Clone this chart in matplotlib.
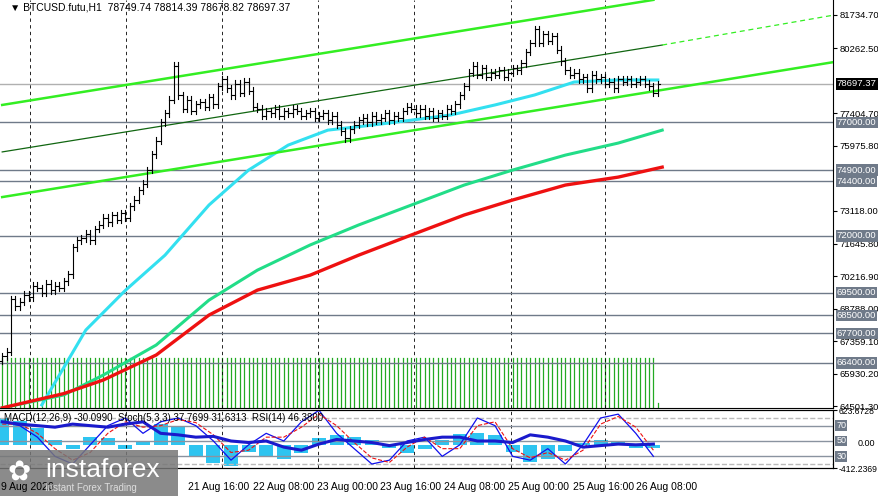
import matplotlib
matplotlib.use("Agg")
import matplotlib.pyplot as plt
import numpy as np
from matplotlib.patches import Rectangle

plt.rcParams['font.family'] = ['Liberation Sans', 'DejaVu Sans']

closes = [66700, 66900, 69200, 68900, 69100, 69400, 69300,
          69800, 69700, 69500, 69900, 69600, 69800, 69700, 70000, 70300,
          71500, 71800, 71900, 72100, 71800, 72300, 72500,
          72800, 72600, 72900, 72700, 73000, 72800, 73300,
          73600, 74000, 74300, 74900, 75600,
          76200, 77000, 77400, 78000, 79500,
          78200, 77600, 78000, 77500, 77800, 77900, 77700, 78100, 77800, 78600, 78900, 78500, 78200, 78700, 78300, 78800, 78400, 77700,
          77600, 77300, 77500, 77400, 77600, 77300, 77500, 77400, 77600, 77500, 77300, 77400, 77500, 77200, 77300, 77400, 77100, 77300, 76900, 76600, 76300,
          76700, 76900, 77100, 77200, 77000, 77300, 77100, 77200, 77400, 77100, 77300, 77200,
          77500, 77700, 77600, 77400, 77600, 77300, 77500, 77200, 77400, 77300, 77600, 77500, 77800, 78200,
          78600, 79200, 79500, 79100, 79400, 79000, 79200, 79100, 79300, 79000,
          79200, 79400, 79300, 79600, 80100, 80500,
          81100, 80500, 80900, 80600, 80800, 80200, 79700, 79300,
          79100, 79200, 78900, 79000, 78500, 79100, 78900, 79000,
          78700, 78800, 78500, 78900, 78800, 78900, 78700, 78800, 78900, 78700, 78600, 78300,
          78697.37]
opens = [66500] + closes[:-1]
wick = 150

ma_bars = [9, 19, 28, 37, 47, 56, 65, 74, 84, 93, 102, 112, 121, 130, 140, 149]
ma_cyan = [64550, 67850, 69600, 71150, 73360, 74900, 76000, 76660, 76880, 77100, 77330, 77770, 78210, 78780, 78870, 78870]
ma_green_bars = [0, 14, 23, 35, 47, 58, 70, 81, 93, 105, 116, 128, 140, 150]
ma_green = [64420, 64990, 65870, 67190, 69170, 70490, 71600, 72480, 73360, 74240, 74900, 75560, 76090, 76660]
ma_red = [64420, 65050, 65650, 66750, 68510, 69610, 70270, 71150, 72040, 72920, 73580, 74240, 74590, 75030]

levels = [77000, 74900, 74400, 72000, 69500, 68500, 67700, 66400]
axis_ticks = [81734.70, 80262.50, 77404.70, 75975.80, 73118.00, 71645.80, 70216.90, 68788.00, 67359.10, 65930.20, 64501.30]
last_price = 78697.37

chan_upper = [(0, 77770), (148, 82400)]
chan_mid = [(0, 75700), (150, 80410)]
chan_mid_ext = [(150, 80410), (189, 81730)]
chan_lower = [(0, 73710), (189, 79660)]

osc_bars = list(range(0, 152, 4))
stoch = [75, 70, 55, 30, 20, 45, 70, 80, 60, 75, 80, 70, 50, 25, 45, 60, 50, 75, 90, 60,
         40, 20, 25, 50, 55, 30, 45, 80, 70, 30, 25, 40, 20, 45, 80, 85, 60, 30]
stoch_sig = [72, 72, 60, 40, 25, 35, 60, 75, 68, 70, 78, 74, 58, 35, 38, 55, 55, 68, 85, 70,
             48, 28, 22, 42, 55, 40, 40, 70, 75, 40, 28, 35, 25, 38, 72, 82, 68, 38]
rsi = [75, 72, 70, 68, 72, 70, 68, 72, 75, 60, 58, 55, 56, 50, 48, 50, 42, 38, 46, 52,
       50, 48, 44, 48, 52, 55, 55, 50, 50, 48, 58, 55, 50, 42, 44, 46, 45, 46]
macd = [480, 420, 300, 80, -80, 150, 120, -80, 50, 380, 330, -200, -320, -380, -120, -200, -250, -150, 120, 180,
        150, 80, -60, -150, -80, 80, 200, 220, 180, -120, -300, -250, -100, 30, 90, 60, -50, -60]
volume_bars = list(range(0, 150))

date_labels = ["9 Aug 2026", "21 Aug 16:00", "22 Aug 08:00", "23 Aug 00:00", "23 Aug 16:00",
               "24 Aug 08:00", "25 Aug 00:00", "25 Aug 16:00", "26 Aug 08:00"]
date_pos = [0, 42.5, 57.3, 71.8, 86.1, 100.7, 115.2, 130, 144.3]
grid_pos = [6.4, 28.2, 50, 71.8, 93.6, 115.7, 137]

W, H = 879, 496
PX = 4.4
fig = plt.figure(figsize=(8.79, 4.96), dpi=100)
fig.patch.set_facecolor("white")
XMAX = 833 / PX - 0.5

def fx(px):
    return px / W
def fy(py):
    return 1 - py / H

PTOP, PBOT = 82395, 64415
ax = fig.add_axes([0, fy(408), fx(833), 408 / H])
ax.set_xlim(-0.5, XMAX)
ax.set_ylim(PBOT, PTOP)

vol_top = PBOT + (408 - 358) * (PTOP - PBOT) / 408
for i in volume_bars:
    top = vol_top if i < len(volume_bars) - 1 else PBOT + 5 * (PTOP - PBOT) / 408
    ax.plot([i, i], [PBOT, top], color="#22aa22", lw=0.9, zorder=1)

for b in grid_pos:
    ax.axvline(b, color="black", ls=(0, (4, 4)), lw=0.6, zorder=1)

for lv in levels:
    ax.axhline(lv, color="#6f7a89", lw=1.0, zorder=2)
ax.axhline(last_price, color="#b0b0b0", lw=1.0, zorder=2)

ax.plot(ma_bars, ma_cyan, color="#33e0f0", lw=2.2, zorder=3)
ax.plot(ma_green_bars, ma_green, color="#22dd88", lw=2.2, zorder=3)
ax.plot(ma_green_bars, ma_red, color="#ee1111", lw=2.4, zorder=3)

for seg, c, lw, ls in [(chan_upper, "#33ee22", 1.8, "-"), (chan_mid, "#116611", 0.9, "-"),
                       (chan_mid_ext, "#33ee22", 0.9, (0, (4, 3))), (chan_lower, "#33ee22", 1.8, "-")]:
    ax.plot([seg[0][0], seg[1][0]], [seg[0][1], seg[1][1]], color=c, lw=lw, ls=ls, zorder=4)

for i, (o, c) in enumerate(zip(opens, closes)):
    hi, lo = max(o, c) + wick, min(o, c) - wick
    ax.plot([i, i], [lo, hi], color="black", lw=0.8, zorder=5)
    ax.plot([i - 0.4, i], [o, o], color="black", lw=0.8, zorder=5)
    ax.plot([i, i + 0.4], [c, c], color="black", lw=0.8, zorder=5)

FS = 6.8
ax.set_xticks([])
ax.yaxis.tick_right()
ax.set_yticks(axis_ticks)
ax.set_yticklabels([f"{t:.2f}" for t in axis_ticks], fontsize=FS)
ax.tick_params(axis="y", length=3, pad=1.5)
for s in ["top", "left"]:
    ax.spines[s].set_visible(False)
for lv in levels:
    ax.text(1.0045, lv, f"{lv:.2f}", transform=ax.get_yaxis_transform(), fontsize=FS, color="white",
            va="center", ha="left", bbox=dict(boxstyle="square,pad=0.12", fc="#6f7a89", ec="none"), zorder=10)
ax.text(1.0045, last_price, f"{last_price:.2f}", transform=ax.get_yaxis_transform(), fontsize=FS, color="white",
        va="center", ha="left", bbox=dict(boxstyle="square,pad=0.12", fc="black", ec="none"), zorder=10)
ax.text(0.012, 0.993, "▼ BTCUSD.futu,H1  78749.74 78814.39 78678.82 78697.37", transform=ax.transAxes,
        fontsize=7.5, va="top", ha="left")

ax2 = fig.add_axes([0, fy(468), fx(833), 58 / H])
ax2.set_xlim(-0.5, XMAX)
ax2.set_ylim(14.8, 90.4)
ax2h = ax2.twinx()
ax2h.set_ylim(-412.2369, 623.6728)
ax2h.bar(osc_bars, macd, width=3.2, color="#2ec4f0", zorder=1)
for b in grid_pos:
    ax2.axvline(b, color="black", ls=(0, (4, 4)), lw=0.6)
for lv, st in [(80, "--"), (70, "-"), (50, "-"), (30, "-"), (20, "--")]:
    ax2.axhline(lv, color="#8a93a0" if st == "-" else "#bbbbbb", lw=1.0, ls=st)
ax2.set_zorder(ax2h.get_zorder() + 1)
ax2.patch.set_visible(False)
ax2.plot(osc_bars, stoch, color="#1010ee", lw=0.9)
ax2.plot(osc_bars, stoch_sig, color="#ee1111", lw=0.8, ls="--")
ax2.plot(osc_bars, rsi, color="#1a1acc", lw=2.2)
ax2.set_xticks([])
ax2.set_yticks([])
ax2h.set_yticks([623.6728, -412.2369])
ax2h.set_yticklabels(["623.6728", "-412.2369"], fontsize=6.2)
ax2h.tick_params(axis="y", length=3, pad=1)
for lv in [70, 50, 30]:
    ax2.text(1.004, lv, str(lv), transform=ax2.get_yaxis_transform(), fontsize=6.5, color="white",
             va="center", ha="left", bbox=dict(boxstyle="square,pad=0.1", fc="#6f7a89", ec="none"))
ax2.text(1.03, 47, "0.00", transform=ax2.get_yaxis_transform(), fontsize=6.5, va="center", ha="left")
for a in (ax2, ax2h):
    a.spines["left"].set_visible(False)
ax2.text(0.005, 0.95, "MACD(12,26,9) -30.0990  Stoch(5,3,3) 37.7699 31.6313  RSI(14) 46.3800",
         transform=ax2.transAxes, fontsize=7, va="top")

for lab, b in zip(date_labels, date_pos):
    px = b * PX
    fig.text(fx(px + 1), fy(487), lab, fontsize=7.5, va="center", ha="left")

fig.patches.append(Rectangle((0, 0), fx(178), 46 / H, transform=fig.transFigure, fc="#777777", alpha=0.85, ec="none"))
fig.text(fx(45), fy(470), "instaforex", fontsize=19, color="white", va="center", ha="left")
fig.text(fx(45), fy(488), "Instant Forex Trading", fontsize=7, color="#dddddd", va="center", ha="left")
fig.text(fx(8), fy(472), "✿", fontsize=20, color="white", va="center", ha="left", family="DejaVu Sans")

fig.savefig("out.png", dpi=100)
